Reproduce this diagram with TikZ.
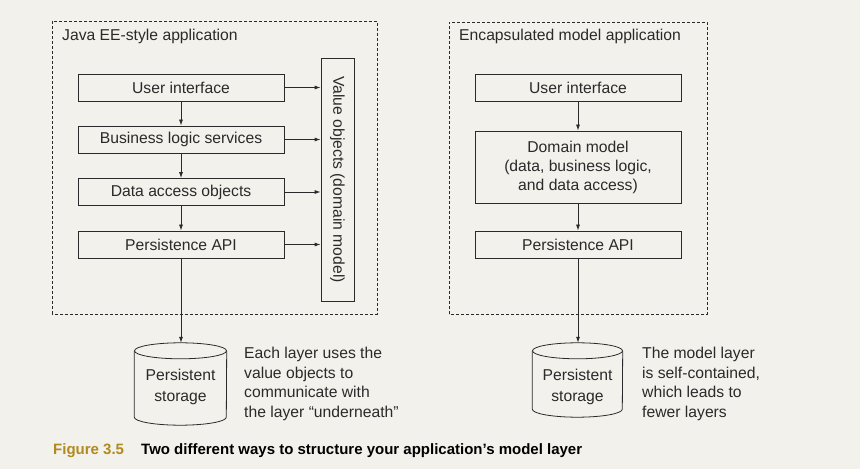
\documentclass[tikz,border=0pt]{standalone}
\usepackage{fontspec}
\setmainfont{Liberation Sans}
\usepackage{graphicx}
\usepackage{tikz}
\usetikzlibrary{arrows.meta,calc,positioning}
\usepackage{xcolor}
\definecolor{paper}{HTML}{F2F1EC}
\definecolor{ink}{HTML}{2A2A2A}
\definecolor{figgold}{HTML}{B08A1E}

\begin{document}
\begin{tikzpicture}[x=1pt,y=1pt,
  layer/.style={draw=ink, line width=0.8pt, minimum width=206pt, minimum height=27pt, inner sep=0pt, text=ink, font=\fontsize{15.7}{19}\selectfont},
  drum/.style={minimum width=92pt, minimum height=82pt, inner sep=0pt},
  drumtext/.style={align=center, inner sep=0pt, text=ink, font=\fontsize{15.7}{20.5}\selectfont},
  group/.style={draw=ink, line width=0.7pt, dash pattern=on 3pt off 2pt},
  title/.style={anchor=west, inner sep=0pt, text=ink, font=\fontsize{15.7}{19}\selectfont},
  note/.style={anchor=west, inner sep=0pt, align=left, text=ink, font=\fontsize{15.7}{19.8}\selectfont},
  link/.style={draw=ink, line width=0.8pt, -{Latex[length=6pt,width=4pt]}}]
  % page
  \fill[paper] (0,0) rectangle (860,469);
  \useasboundingbox (0,0) rectangle (860,469);
  % Java EE-style application
  \draw[group] (52,155) rectangle (377,448);
  \node[title] (ltitle) at (62,433) {Java EE-style application};
  \node[layer] (lui) at (181,381.5) {User interface};
  \node[layer] (lbl) at (181,329.5) {Business logic services};
  \node[layer] (lda) at (181,277) {Data access objects};
  \node[layer] (lpa) at (181,224.5) {Persistence API};
  \node[layer, minimum width=33pt, minimum height=243pt] (vals) at (337.5,289.5)
    {\rotatebox{-90}{Value objects (domain model)}};
  \draw[link] (lui) -- (lbl);
  \draw[link] (lbl) -- (lda);
  \draw[link] (lda) -- (lpa);
  \draw[link] (lui.east) -- (lui.east -| vals.west);
  \draw[link] (lbl.east) -- (lbl.east -| vals.west);
  \draw[link] (lda.east) -- (lda.east -| vals.west);
  \draw[link] (lpa.east) -- (lpa.east -| vals.west);
  % storage below the Java EE-style application
  \node[drum] (lstore) at (180.5,85) {};
  \draw[draw=ink, line width=0.8pt] ([yshift=-8pt]lstore.north west) -- ([yshift=8pt]lstore.south west)
    arc[start angle=180, end angle=360, x radius=46pt, y radius=8pt] -- ([yshift=-8pt]lstore.north east);
  \draw[draw=ink, line width=0.8pt] ([yshift=-8pt]lstore.north) ellipse [x radius=46pt, y radius=8pt];
  \node[drumtext] (llabel) at ([yshift=-3pt]lstore.center) {Persistent\\storage};
  \draw[link] (lpa) -- (lpa |- lstore.north);
  \node[note] (lnote) at (244,85) {Each layer uses the\\value objects to\\communicate with\\the layer ``underneath''};
  % Encapsulated model application
  \draw[group] (449,155) rectangle (707,447);
  \node[title] (rtitle) at (459,433) {Encapsulated model application};
  \node[layer] (rui) at (578,381.5) {User interface};
  \node[layer, align=center, minimum height=72pt] (rdm) at (578,302) {Domain model\\(data, business logic,\\and data access)};
  \node[layer] (rpa) at (578,224.5) {Persistence API};
  \draw[link] (rui) -- (rdm);
  \draw[link] (rdm) -- (rpa);
  % storage below the encapsulated model
  \node[drum, minimum width=90pt, minimum height=74pt] (rstore) at (577.5,89) {};
  \draw[draw=ink, line width=0.8pt] ([yshift=-8pt]rstore.north west) -- ([yshift=8pt]rstore.south west)
    arc[start angle=180, end angle=360, x radius=45pt, y radius=8pt] -- ([yshift=-8pt]rstore.north east);
  \draw[draw=ink, line width=0.8pt] ([yshift=-8pt]rstore.north) ellipse [x radius=45pt, y radius=8pt];
  \node[drumtext] (rlabel) at ([yshift=-7pt]rstore.center) {Persistent\\storage};
  \draw[link] (rpa) -- (rpa |- rstore.north);
  \node[note] (rnote) at (642,85) {The model layer\\is self-contained,\\which leads to\\fewer layers};
  % caption
  \node[anchor=west, inner sep=0pt, text=figgold, font=\fontsize{15}{17}\selectfont\bfseries] (fignum) at (53,18) {Figure 3.5};
  \node[anchor=west, inner sep=0pt, text=black, font=\fontsize{15}{17}\selectfont\bfseries] (figtext) at (141,18) {Two different ways to structure your application’s model layer};
\end{tikzpicture}
\end{document}
